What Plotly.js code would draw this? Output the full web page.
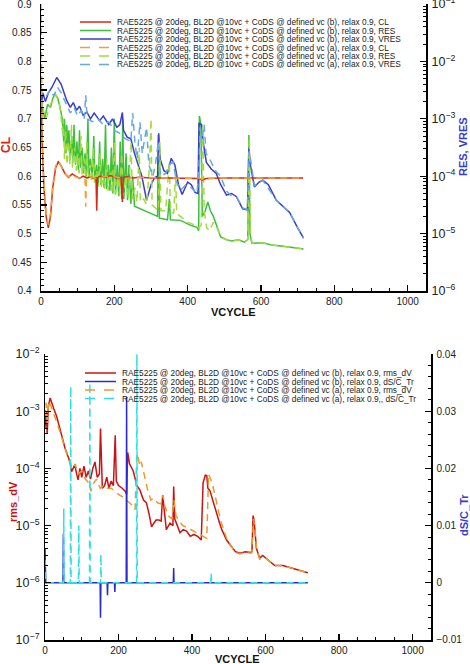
<!DOCTYPE html>
<html><head><meta charset="utf-8">
<script src="https://cdn.plot.ly/plotly-3.0.1.min.js"></script>
<style>html,body{margin:0;padding:0;background:#fff;} #chart{width:470px;height:664px;}</style>
</head><body><div id="chart"></div>
<script>
// ---------- TOP PANEL DATA ----------
const clB_x = [0,3,8,14,20,26,32,40,47,55,65,75,85,95,105,115,125,135,145,150,152,154,160,175,190,205,218,222,224,235,250,270,300,350,400,430,440,450,500,600,715];
const clB_y = [0.76,0.66,0.58,0.53,0.51,0.53,0.58,0.615,0.625,0.618,0.605,0.598,0.604,0.600,0.596,0.600,0.597,0.599,0.596,0.597,0.54,0.597,0.600,0.598,0.601,0.597,0.598,0.555,0.598,0.599,0.597,0.598,0.597,0.597,0.597,0.596,0.593,0.596,0.597,0.597,0.597];
const clA_x = [0,3,8,14,20,26,32,40,48,56,66,76,86,96,106,116,120,122,124,135,150,165,180,200,230,260,300,350,400,430,445,460,500,600,715];
const clA_y = [0.90,0.67,0.59,0.535,0.515,0.535,0.585,0.618,0.626,0.617,0.604,0.599,0.603,0.598,0.597,0.598,0.597,0.547,0.597,0.599,0.596,0.598,0.600,0.599,0.596,0.598,0.597,0.597,0.596,0.597,0.593,0.596,0.597,0.597,0.597];

const resB_x = [0,4,10,18,26,32,38,46,52,58,62,64,68,70,74,76,80,84,88,90,94,98,102,105,108,112,116,120,124,128,131,135,140,144,147,152,156,160,163,168,172,176,179,184,188,192,196,200,203,208,212,216,220,223,226,232,236,240,245,250,255,270,290,310,318,320,323,345,350,353,380,395,410,425,430,432,436,440,448,455,462,470,480,490,505,520,539,555,564,567,570,575,605,630,660,690,716];
const resB_y = [1.0e-3,1.58e-3,1.0e-3,1.78e-3,1.58e-3,2.24e-3,2.75e-3,2.24e-3,1.58e-3,1.0e-3,4.0e-4,1.0e-3,2.5e-4,7.9e-4,3.16e-4,6.3e-4,2.0e-4,5.0e-4,1.78e-4,7.9e-4,1.58e-4,4.0e-4,1.26e-4,6.3e-4,1.41e-4,3.16e-4,1.12e-4,2.5e-4,1.0e-4,1.0e-3,1.0e-4,2.0e-4,8.9e-5,5.0e-4,7.9e-5,1.58e-4,7.1e-5,4.0e-4,7.1e-5,2.0e-4,6.3e-5,7.9e-4,6.0e-5,1.58e-4,5.6e-5,3.16e-4,5.0e-5,1.0e-3,4.8e-5,1.58e-4,4.5e-5,4.0e-4,4.0e-5,1.0e-3,4.0e-5,2.5e-4,3.8e-5,1.58e-4,3.3e-5,1.0e-4,3.0e-5,2.7e-5,2.34e-5,2.1e-5,2.0e-5,5.2e-4,1.86e-5,1.74e-5,4.0e-5,1.74e-5,1.7e-5,1.51e-5,1.38e-5,1.29e-5,1.12e-5,1.12e-3,7.9e-4,2.0e-5,2.5e-5,3.55e-5,2.5e-5,2.0e-5,1.26e-5,8.7e-6,7.9e-6,7.4e-6,7.8e-6,7.1e-6,7.9e-6,5.2e-4,1.0e-5,6.8e-6,6.9e-6,6.3e-6,6.0e-6,5.6e-6,5.4e-6];

const vresB_x = [0,5,12,20,30,43,55,70,80,88,97,105,115,125,135,145,160,170,185,195,207,215,222,225,235,245,255,265,275,288,300,310,318,321,325,335,345,355,365,375,385,400,410,420,428,431,438,442,451,465,478,490,506,520,533,550,563,567,571,582,595,605,620,642,660,678,700,716];
const vresB_y = [1.58e-3,2.82e-3,2.0e-3,2.82e-3,3.55e-3,5.25e-3,3.98e-3,2.09e-3,1.58e-3,1.91e-3,1.41e-3,1.66e-3,1.15e-3,1.32e-3,1.0e-3,1.26e-3,9.3e-4,1.12e-3,7.9e-4,1.0e-3,7.1e-4,7.9e-4,1.29e-3,6.3e-4,4.8e-4,4.5e-4,2.5e-4,1.58e-4,1.0e-4,3.8e-5,7.1e-5,9.5e-5,1.0e-4,5.6e-4,2.0e-4,1.26e-4,1.12e-4,2.04e-4,1.58e-4,7.1e-5,4.8e-5,7.9e-5,7.1e-5,5.2e-5,5.0e-5,8.3e-4,7.9e-4,4.0e-4,1.74e-4,1.32e-4,1.12e-4,7.1e-5,4.7e-5,5.0e-5,4.4e-5,2.7e-5,2.6e-5,3.16e-4,1.58e-4,6.5e-5,7.9e-5,8.5e-5,7.1e-5,3.8e-5,2.95e-5,2.34e-5,1.26e-5,8.3e-6];

const resA_x = [0,6,14,22,30,40,48,54,58,61,64,67,71,75,79,83,86,92,96,100,104,109,112,118,122,125,128,134,138,143,146,152,156,161,164,170,174,180,183,190,194,200,203,210,214,220,224,232,238,246,249,256,262,268,271,280,288,296,300,303,312,320,324,327,340,350,353,362,367,370,380,400,420,430,437,441,445,452,460,470,480,490,505,520,539,555,564,568,571,576,605,630,660,690,716];
const resA_y = [7.9e-4,1.41e-3,1.0e-3,1.58e-3,2.0e-3,2.63e-3,2.24e-3,1.26e-3,6.3e-4,1.0e-3,2.0e-4,6.3e-4,1.58e-4,4.0e-4,1.58e-4,7.9e-4,1.41e-4,3.16e-4,1.26e-4,2.5e-4,1.12e-4,5.0e-4,1.0e-4,2.0e-4,8.9e-5,4.0e-4,8.9e-5,1.58e-4,7.9e-5,3.16e-4,7.1e-5,1.26e-4,6.6e-5,2.5e-4,6.3e-5,1.0e-4,6.0e-5,2.0e-4,5.6e-5,1.26e-4,5.2e-5,4.0e-4,5.0e-5,1.0e-4,4.7e-5,2.5e-4,4.5e-5,1.0e-4,4.0e-5,4.0e-4,4.0e-5,6.3e-5,3.55e-5,3.16e-4,3.55e-5,4.0e-5,3.16e-5,1.58e-4,1.0e-3,3.16e-5,2.8e-5,2.5e-5,4.0e-4,2.5e-5,2.5e-5,1.78e-4,2.5e-5,2.24e-5,1.12e-4,2.24e-5,2.0e-5,1.58e-5,1.41e-5,1.26e-5,1.41e-5,7.9e-4,2.5e-5,1.26e-5,1.12e-5,1.58e-5,1.26e-5,8.9e-6,7.9e-6,7.4e-6,7.8e-6,7.1e-6,7.9e-6,4.5e-4,1.0e-5,6.8e-6,6.9e-6,6.3e-6,6.0e-6,5.6e-6,5.4e-6];

const vresA_x = [0,5,15,25,35,45,55,70,80,90,100,110,118,122,126,140,155,170,185,200,215,230,245,250,256,262,270,276,288,294,305,312,320,326,340,350,360,370,380,395,410,425,430,434,440,445,450,460,475,490,505,520,535,550,563,568,573,582,605,642,678,716];
const vresA_y = [1.0e-3,2.24e-3,2.51e-3,3.16e-3,2.51e-3,3.55e-3,2.82e-3,1.78e-3,1.26e-3,1.58e-3,1.12e-3,1.41e-3,1.0e-3,2.57e-3,1.0e-3,8.9e-4,1.0e-3,7.9e-4,8.9e-4,6.3e-4,5.6e-4,4.5e-4,4.0e-4,1.26e-3,4.0e-4,2.0e-4,8.7e-4,2.5e-4,7.1e-4,1.58e-4,1.0e-4,1.58e-4,4.0e-4,1.0e-4,1.12e-4,1.58e-4,1.78e-4,7.9e-5,5.6e-5,7.1e-5,6.3e-5,5.0e-5,1.0e-4,7.1e-4,5.0e-4,7.9e-4,2.5e-4,2.0e-4,1.26e-4,1.0e-4,5.6e-5,4.5e-5,4.2e-5,2.8e-5,2.6e-5,2.8e-4,1.58e-4,6.8e-5,8.5e-5,3.8e-5,2.34e-5,8.3e-6];

// ---------- BOTTOM PANEL DATA ----------
const rmsB_x = [0,3,6,9,14,18,24,32,40,45,55,63,68,72,76,81,86,90,95,100,106,112,118,124,130,136,142,148,151,153,156,162,168,174,180,186,191,194,200,210,218,222,225,230,240,250,258,268,276,283,290,296,302,310,316,320,324,330,340,348,350,353,360,367,376,385,395,405,415,425,430,436,440,443,449,458,467,475,481,494,505,518,530,545,560,563,566,569,575,584,592,600,612,625,647,670,695,715];
const rmsB_y = [5e-4,1.0e-3,4e-4,1.2e-3,1.7e-3,1.4e-3,1.1e-3,8e-4,5e-4,3.5e-4,2.2e-4,1.6e-4,1.3e-4,8.7e-5,1.0e-4,1.15e-4,8e-5,6.3e-5,1.0e-4,7e-5,1.1e-4,7e-5,9e-5,6.5e-5,1.0e-4,1.3e-4,7e-5,8e-5,5e-4,1.0e-4,4.5e-5,5e-5,7e-5,4.5e-5,6e-5,5e-5,3.8e-4,6e-5,5e-5,4.5e-5,4.0e-5,3.5e-5,1.9e-4,1.2e-4,9e-5,5e-5,4.2e-5,2.8e-5,2.5e-5,1.6e-5,9.5e-6,1.1e-5,1.25e-5,1.25e-5,1.2e-5,3.4e-5,2.0e-5,8.5e-6,1.1e-5,1.0e-5,4.8e-5,1.3e-5,1.0e-5,7.5e-6,8.5e-6,8.0e-6,6.5e-6,7e-6,6.5e-6,5.6e-6,5.6e-5,7.6e-5,7.5e-5,4.5e-5,4.0e-5,2.5e-5,1.5e-5,1.1e-5,8.5e-6,5.6e-6,4.5e-6,3.5e-6,3.3e-6,3.5e-6,3.4e-6,3.5e-6,1.5e-5,1.2e-5,4.0e-6,2.7e-6,3.0e-6,2.7e-6,2.3e-6,2.0e-6,2.0e-6,1.8e-6,1.65e-6,1.5e-6];

const rmsA_x = [0,3,6,10,15,22,30,40,48,56,63,68,75,82,90,100,110,120,125,132,140,150,160,170,180,190,200,210,220,230,240,245,250,254,258,262,266,272,280,288,296,306,315,321,326,335,345,351,356,365,375,390,405,420,440,445,449,455,462,470,478,485,494,505,518,530,545,560,563,567,570,576,584,600,625,647,680,715];
const rmsA_y = [8e-4,1.4e-3,6e-4,1.5e-3,1.3e-3,1.0e-3,7e-4,4.5e-4,3e-4,2.0e-4,1.5e-4,1.25e-4,1.0e-4,1.2e-4,8e-5,9e-5,6.5e-5,5.5e-5,4.0e-5,5.5e-5,6.5e-5,4.5e-5,5e-5,4.5e-5,4.5e-5,4.0e-5,3.5e-5,3.2e-5,2.8e-5,2.5e-5,2.2e-5,1.9e-5,1.8e-4,1.5e-4,1.1e-4,1.3e-4,1.0e-4,6e-5,4e-5,2.8e-5,3.0e-5,2.5e-5,2.4e-5,3.4e-5,2.2e-5,1.5e-5,1.3e-5,2.8e-5,1.5e-5,1.2e-5,1.0e-5,9e-6,8e-6,7e-6,6e-6,8e-5,7e-5,5.5e-5,3.5e-5,2.0e-5,1.2e-5,9e-6,6e-6,4.5e-6,3.4e-6,3.2e-6,3.4e-6,3.3e-6,3.4e-6,1.3e-5,1.0e-5,3.8e-6,2.6e-6,2.7e-6,2.0e-6,2.0e-6,1.75e-6,1.5e-6];

const dsB_x = [0,1,2,49,50,51,150,151,152,169,170,171,189,190,191,221,222,223,349,350,351,715];
const dsB_y = [0.006,0.003,0,0,0.0085,0,0,-0.0061,0,0,-0.0022,0,0,-0.0016,0,0,0.0325,0,0,0.0026,0,0];

const dsA_x = [0,1,2,50,51,52,69,70,71,91,92,93,121,122,123,151,152,153,249,250,251,451,452,453,715];
const dsA_y = [0.004,0.002,0,0,0.013,0,0,0.0344,0,0,0.010,0,0,0.035,0,0,0.005,0,0,0.042,0,0,0.0017,0,0];

// ---------- LEGEND TEXT ----------
const legTop = [
 "RAE5225 @ 20deg, BL2D @10vc + CoDS @ defined vc (b), relax 0.9, CL",
 "RAE5225 @ 20deg, BL2D @10vc + CoDS @ defined vc (b), relax 0.9, RES",
 "RAE5225 @ 20deg, BL2D @10vc + CoDS @ defined vc (b), relax 0.9, VRES",
 "RAE5225 @ 20deg, BL2D @10vc + CoDS @ defined vc (a), relax 0.9, CL",
 "RAE5225 @ 20deg, BL2D @10vc + CoDS @ defined vc (a), relax 0.9, RES",
 "RAE5225 @ 20deg, BL2D @10vc + CoDS @ defined vc (a), relax 0.9, VRES"];
const legBot = [
 "RAE5225 @ 20deg, BL2D @10vc + CoDS @ defined vc (b), relax 0.9, rms_dV",
 "RAE5225 @ 20deg, BL2D @10vc + CoDS @ defined vc (b), relax 0.9, dS/C_Tr",
 "RAE5225 @ 20deg, BL2D @10vc + CoDS @ defined vc (a), relax 0.9, rms_dV",
 "RAE5225 @ 20deg, BL2D @10vc + CoDS @ defined vc (a), relax 0.9,, dS/C_Tr"];

const W = 470, H = 664;
const px = v => v / W;
const py = v => 1 - v / H;
const DASH = '7px,5px';
const C = {
  clB:'#d42a1e', resB:'#3cbf3c', vresB:'#3a3acc', clA:'#f0a236', resA:'#a2dc3c', vresA:'#66a9e0',
  rmsB:'#c81414', dsB:'#2a2ad0', rmsA:'#eb9a2c', dsA:'#2fe0e0'
};
const topStyles = [
  {c:C.clB, d:'solid'},{c:C.resB, d:'solid'},{c:C.vresB, d:'solid'},
  {c:C.clA, d:DASH},{c:C.resA, d:DASH},{c:C.vresA, d:DASH}];
const botStyles = [
  {c:C.rmsB, d:'solid'},{c:C.dsB, d:'solid'},{c:C.rmsA, d:DASH},{c:C.dsA, d:DASH}];

function tr(x, y, xa, ya, color, dash){
  return {x:x, y:y, xaxis:xa, yaxis:ya, mode:'lines', hoverinfo:'skip',
    line:{color:color, width:1.5, dash:dash}, showlegend:false};
}
const data = [
  tr(resB_x, resB_y, 'x', 'y', C.resB, 'solid'),
  tr(vresB_x, vresB_y, 'x', 'y', C.vresB, 'solid'),
  tr(resA_x, resA_y, 'x', 'y', C.resA, DASH),
  tr(vresA_x, vresA_y, 'x', 'y', C.vresA, DASH),
  tr(clB_x, clB_y, 'x', 'y2', C.clB, 'solid'),
  tr(clA_x, clA_y, 'x', 'y2', C.clA, DASH),
  tr(rmsB_x, rmsB_y, 'x2', 'y3', C.rmsB, 'solid'),
  tr(rmsA_x, rmsA_y, 'x2', 'y3', C.rmsA, DASH),
  tr(dsB_x, dsB_y, 'x2', 'y4', C.dsB, 'solid'),
  tr(dsA_x, dsA_y, 'x2', 'y4', C.dsA, DASH)
];

const tf = {family:'Liberation Sans, Arial, sans-serif', size:10, color:'#222'};
const common = {showline:true, linecolor:'#000', linewidth:1.5, showgrid:false, zeroline:false,
  ticks:'inside', ticklen:6, tickwidth:1.3, tickcolor:'#000', tickfont:tf, ticklabeloverflow:'allow'};
const minorLin = d => ({dtick:d, ticks:'inside', ticklen:3, tickwidth:1, tickcolor:'#000', showgrid:false});
const minorLog = {dtick:'D1', ticks:'inside', ticklen:3, tickwidth:1, tickcolor:'#000', showgrid:false};

const annotations = [];
const shapes = [];
function ttl(text, x, y, color, angle, size){
  annotations.push({text:'<b>'+text+'</b>', x:px(x), y:py(y), xref:'paper', yref:'paper',
    showarrow:false, textangle:angle, xanchor:'center', yanchor:'middle',
    font:{family:'Liberation Sans, Arial, sans-serif', size:size, color:color}});
}
ttl('CL', 6, 145, '#dd2020', -90, 12);
ttl('RES, VRES', 463, 147, '#3a3ad0', -90, 11);
ttl('VCYCLE', 233, 312, '#111', 0, 11);
ttl('rms_dV', 13, 502, '#cc1111', -90, 11);
ttl('dS/C_Tr', 464, 515, '#3a3ad0', -90, 11);
ttl('VCYCLE', 238, 659, '#111', 0, 11);

function legend(texts, styles, y0, dy, lx0, lx1, tx){
  texts.forEach((t, i) => {
    const y = y0 + i * dy;
    shapes.push({type:'line', xref:'paper', yref:'paper', x0:px(lx0), x1:px(lx1), y0:py(y), y1:py(y),
      line:{color:styles[i].c, width:1.5, dash:styles[i].d === 'solid' ? 'solid' : '10px,9px'}});
    annotations.push({text:t, x:px(tx), y:py(y), xref:'paper', yref:'paper', showarrow:false,
      xanchor:'left', yanchor:'middle',
      font:{family:'Liberation Sans, Arial, sans-serif', size:8.3, color:'#222'}});
  });
}
legend(legTop, topStyles, 22, 8.5, 80, 111, 115);
legend(legBot, botStyles, 373, 8.5, 85, 116, 120);

const layout = {
  width:W, height:H, margin:{l:0, r:0, t:0, b:0}, paper_bgcolor:'#fff', plot_bgcolor:'rgba(0,0,0,0)',
  showlegend:false,
  xaxis: Object.assign({}, common, {domain:[px(41), px(426)], anchor:'y', range:[0,1050], tick0:0, dtick:200, minor:minorLin(50)}),
  yaxis: Object.assign({}, common, {domain:[py(291), py(4)], anchor:'x', side:'right', type:'log', range:[-6.0002,-0.9998], dtick:1, exponentformat:'power', minor:minorLog, ticklabelstandoff:2}),
  yaxis2: Object.assign({}, common, {overlaying:'y', anchor:'x', side:'left', range:[0.39998,0.90002], tick0:0.4, dtick:0.05, minor:minorLin(0.01), ticklabelstandoff:6}),
  xaxis2: Object.assign({}, common, {domain:[px(45), px(431)], anchor:'y3', range:[0,1050], tick0:0, dtick:200, minor:minorLin(50)}),
  yaxis3: Object.assign({}, common, {domain:[py(640), py(354)], anchor:'x2', side:'left', type:'log', range:[-7.0002,-1.9998], dtick:1, exponentformat:'power', minor:minorLog, ticklabelstandoff:2}),
  yaxis4: Object.assign({}, common, {overlaying:'y3', anchor:'x2', side:'right', range:[-0.01001,0.04001], tick0:0, dtick:0.01, minor:minorLin(0.002), ticklabelstandoff:2}),
  annotations: annotations,
  shapes: shapes
};
Plotly.newPlot('chart', data, layout, {staticPlot:true, displayModeBar:false});
</script>
</body></html>
